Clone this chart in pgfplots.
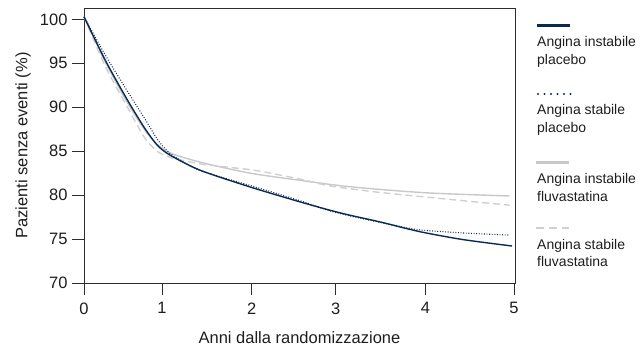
\documentclass[border=0pt]{standalone}
\usepackage{fontspec}
\setmainfont{Liberation Sans}
\usepackage{pgfplots}
\pgfplotsset{compat=1.18}
\definecolor{navy}{RGB}{10,42,86}
\definecolor{lgray}{RGB}{200,200,200}
\definecolor{dgray}{RGB}{208,208,208}
\definecolor{axc}{RGB}{45,45,45}
\definecolor{txt}{RGB}{30,30,30}
\begin{document}
\begin{tikzpicture}
\path[use as bounding box] (-84bp,-66bp) rectangle (559bp,283bp);
\begin{axis}[
  at={(0,0)}, anchor=south west,
  scale only axis, width=431bp, height=275bp,
  xmin=0, xmax=5.0116, ymin=70, ymax=101.29,
  axis line style={axc, line width=0.8pt},
  tick style={axc, line width=0.8pt},
  tick align=outside, major tick length=12bp,
  xtick pos=bottom, ytick pos=left,
  xtick={0,0.907,1.950,2.927,3.969,5},
  xticklabels={0,1,2,3,4,5},
  ytick={70,75,80,85,90,95,100},
  /pgf/number format/assume math mode=true,
  ticklabel style={font=\fontsize{16.5bp}{19bp}\selectfont, text=txt},
  xticklabel style={yshift=-4bp},
  yticklabel style={xshift=-1bp},
  xlabel={Anni dalla randomizzazione},
  ylabel={Pazienti senza eventi (\%)},
  every axis x label/.style={at={(axis description cs:0.5,-0.2)}, anchor=center},
  every axis y label/.style={at={(axis description cs:-0.1415,0.5)}, anchor=center, rotate=90},
  label style={font=\fontsize{16.5bp}{19bp}\selectfont, text=txt},
  clip=false,
]
% Angina instabile fluvastatina (gray solid)
\addplot[lgray, line width=1.4bp, smooth, tension=0.45] coordinates {
(0,100.3) (0.25,95.1) (0.5,90.6) (0.7,87.5) (0.85,85.8) (1.0,84.8)
(1.35,83.75) (1.93,82.5) (2.5,81.7) (3.0,81.05) (3.5,80.6) (4.0,80.25)
(4.5,80.05) (4.95,79.9)};
% Angina stabile fluvastatina (gray dashed)
\addplot[dgray, line width=1.4bp, dash pattern=on 7bp off 4bp, smooth, tension=0.45] coordinates {
(0,100.3) (0.25,94.6) (0.5,90.1) (0.7,86.6) (0.85,85.0) (1.0,84.3)
(1.35,83.55) (1.70,83.15) (2.0,82.8) (2.5,81.85) (2.86,81.05)
(3.4,80.35) (3.9,79.85) (4.95,78.85)};
% Angina stabile placebo (navy dotted)
\addplot[navy, line width=1.1bp, dash pattern=on 0.9bp off 1.7bp, smooth, tension=0.45] coordinates {
(0,100.3) (0.25,95.9) (0.5,91.9) (0.7,88.8) (0.85,86.4) (0.95,85.2) (1.05,84.4)
(1.35,82.8) (2.0,80.9) (2.5,79.4) (2.86,78.2) (3.2,77.4) (3.44,76.9) (3.64,76.5)
(3.9,76.05) (4.4,75.7) (4.95,75.45)};
% Angina instabile placebo (navy solid)
\addplot[navy, line width=1.4bp, smooth, tension=0.45] coordinates {
(0,100.3) (0.25,95.3) (0.5,90.9) (0.7,87.7) (0.85,85.7) (1.0,84.55)
(1.349,82.84) (1.93,80.93) (2.512,79.23) (2.86,78.28) (3.093,77.71)
(3.442,76.95) (3.9,75.85) (4.407,74.94) (4.977,74.21)};
\end{axis}
% legend
\begin{scope}[every node/.style={anchor=base west, inner sep=0pt, font=\fontsize{14bp}{16bp}\selectfont, text=txt}]
\draw[navy, line width=3bp] (453bp,257bp) -- (486bp,257bp);
\node at (453bp,236bp) {Angina instabile};
\node at (453bp,218.5bp) {placebo};
\draw[navy, line width=2.2bp, line cap=round, dash pattern=on 0bp off 6.5bp] (454bp,189bp) -- (487bp,189bp);
\node at (453bp,168bp) {Angina stabile};
\node at (453bp,150.5bp) {placebo};
\draw[lgray, line width=3bp] (452bp,120.3bp) -- (485bp,120.3bp);
\node at (453bp,99.3bp) {Angina instabile};
\node at (453bp,81.8bp) {fluvastatina};
\draw[dgray, line width=1.8bp, dash pattern=on 8bp off 5bp] (452bp,55bp) -- (485bp,55bp);
\node at (453bp,34bp) {Angina stabile};
\node at (453bp,16.5bp) {fluvastatina};
\end{scope}
\end{tikzpicture}
\end{document}
